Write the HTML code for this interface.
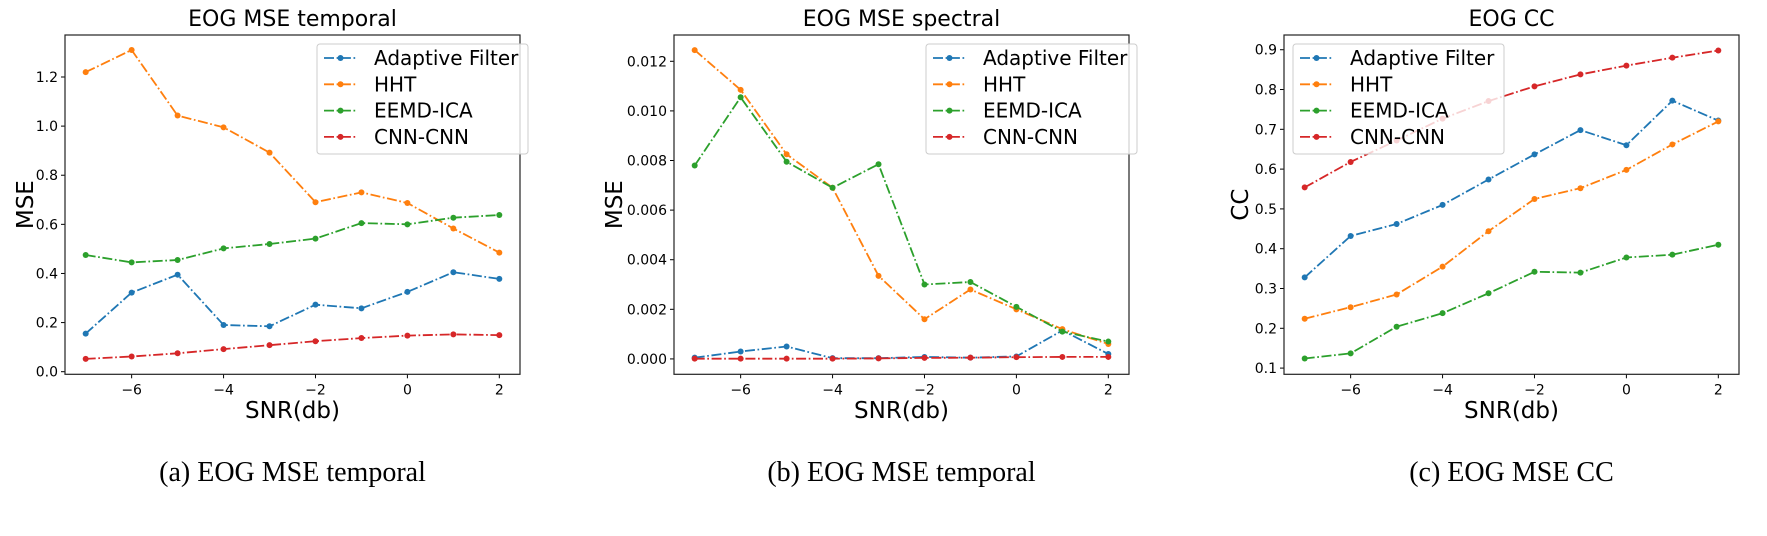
<!DOCTYPE html>
<html><head><meta charset="utf-8"><style>
html,body{margin:0;padding:0;background:#fff;}
svg{display:block;font-family:"DejaVu Sans","Liberation Sans",sans-serif;}
</style></head><body>
<svg id="fig" width="1767" height="536" viewBox="0 0 1767 536" xmlns="http://www.w3.org/2000/svg"></svg>
<script>
const snr = [-7,-6,-5,-4,-3,-2,-1,0,1,2];
const seriesNames = ["Adaptive Filter","HHT","EEMD-ICA","CNN-CNN"];
const colors = ["#1f77b4","#ff7f0e","#2ca02c","#d62728"];
// Chart 1: EOG MSE temporal
const t_af = [0.155,0.322,0.395,0.19,0.185,0.273,0.258,0.325,0.405,0.378];
const t_hht = [1.22,1.31,1.043,0.995,0.892,0.69,0.73,0.687,0.583,0.485];
const t_eemd = [0.475,0.445,0.455,0.502,0.52,0.542,0.605,0.6,0.627,0.638];
const t_cnn = [0.052,0.062,0.075,0.092,0.108,0.124,0.137,0.147,0.152,0.149];
const t_ticks = [0.0,0.2,0.4,0.6,0.8,1.0,1.2];
const t_tickLabels = ["0.0","0.2","0.4","0.6","0.8","1.0","1.2"];
// Chart 2: EOG MSE spectral
const s_af = [0.00005,0.0003,0.0005,0.00003,0.00003,0.00008,0.00005,0.0001,0.00115,0.0002];
const s_hht = [0.01245,0.01085,0.00825,0.0069,0.00335,0.0016,0.0028,0.002,0.0012,0.0006];
const s_eemd = [0.0078,0.01055,0.00795,0.0069,0.00785,0.003,0.0031,0.0021,0.0011,0.0007];
const s_cnn = [0.00001,0.00001,0.00001,0.00001,0.00002,0.00004,0.00005,0.00007,0.00008,0.00008];
const s_ticks = [0,0.002,0.004,0.006,0.008,0.010,0.012];
const s_tickLabels = ["0.000","0.002","0.004","0.006","0.008","0.010","0.012"];
// Chart 3: EOG CC
const c_af = [0.328,0.432,0.462,0.51,0.574,0.637,0.698,0.66,0.772,0.722];
const c_hht = [0.224,0.253,0.285,0.355,0.444,0.525,0.552,0.598,0.662,0.72];
const c_eemd = [0.124,0.137,0.204,0.238,0.288,0.342,0.34,0.378,0.385,0.41];
const c_cnn = [0.554,0.618,0.672,0.727,0.771,0.808,0.838,0.86,0.88,0.898];
const c_ticks = [0.1,0.2,0.3,0.4,0.5,0.6,0.7,0.8,0.9];
const c_tickLabels = ["0.1","0.2","0.3","0.4","0.5","0.6","0.7","0.8","0.9"];
const xTicks = [-6,-4,-2,0,2];
const xTickLabels = ["\u22126","\u22124","\u22122","0","2"];

const NS = "http://www.w3.org/2000/svg";
const fig = document.getElementById("fig");
function mk(tag, attrs, parent){const e=document.createElementNS(NS,tag);for(const k in attrs)e.setAttribute(k,attrs[k]);(parent||fig).appendChild(e);return e;}
function txt(s, attrs, parent){const e=mk("text",attrs,parent);e.textContent=s;return e;}

const charts = [
 {left:65,title:"EOG MSE temporal",ylab:"MSE",ylabOff:32,ymin:-0.0106,ymax:1.371,data:[t_af,t_hht,t_eemd,t_cnn],ticks:t_ticks,labels:t_tickLabels,caption:"(a) EOG MSE temporal",legX:317,name:"temporal"},
 {left:674,title:"EOG MSE spectral",ylab:"MSE",ylabOff:52,ymin:-0.00062,ymax:0.01306,data:[s_af,s_hht,s_eemd,s_cnn],ticks:s_ticks,labels:s_tickLabels,caption:"(b) EOG MSE temporal",legX:926,name:"spectral"},
 {left:1284,title:"EOG CC",ylab:"CC",ylabOff:36,ymin:0.0844,ymax:0.937,data:[c_af,c_hht,c_eemd,c_cnn],ticks:c_ticks,labels:c_tickLabels,caption:"(c) EOG MSE CC",legX:1293,name:"cc"}
];
const W=455, TOP=35, BOT=374.3, XMIN=-7.45, XMAX=2.45;
const LEGW=211;

charts.forEach(ch=>{
  const g = mk("g",{});
  
  
  const L=ch.left, R=L+W;
  const xs = v => L + (v-XMIN)/(XMAX-XMIN)*W;
  const ys = v => BOT - (v-ch.ymin)/(ch.ymax-ch.ymin)*(BOT-TOP);
  const t = txt(ch.title,{x:(L+R)/2,y:26,"text-anchor":"middle","font-size":22,fill:"#000"},g);
  
  
  ch.ticks.forEach((v,i)=>{
    const y=ys(v);
    mk("line",{x1:L-4,x2:L,y1:y,y2:y,stroke:"#000","stroke-width":1},g);
    const tl = txt(ch.labels[i],{x:L-7,y:y+5,"text-anchor":"end","font-size":14,fill:"#000"},g);
    
    
  });
  xTicks.forEach((v,i)=>{
    const x=xs(v);
    mk("line",{x1:x,x2:x,y1:BOT,y2:BOT+4,stroke:"#000","stroke-width":1},g);
    const tl = txt(xTickLabels[i],{x:x,y:BOT+20,"text-anchor":"middle","font-size":14,fill:"#000"},g);
    
    
  });
  const xl = txt("SNR(db)",{x:(L+R)/2,y:418,"text-anchor":"middle","font-size":23,fill:"#000"},g);
  
  
  const yx = L-ch.ylabOff, yy=(TOP+BOT)/2;
  const yl = txt(ch.ylab,{x:yx,y:yy,"text-anchor":"middle","font-size":23,fill:"#000",transform:`rotate(-90 ${yx} ${yy})`},g);
  
  
  ch.data.forEach((arr,si)=>{
    const pts = arr.map((v,i)=>xs(snr[i]).toFixed(1)+","+ys(v).toFixed(1)).join(" ");
    const pl = mk("polyline",{points:pts,fill:"none",stroke:colors[si],"stroke-width":1.8,"stroke-dasharray":"10 2.6 1.7 2.6"},g);
    
    
    arr.forEach((v,i)=>{
      const c = mk("circle",{cx:xs(snr[i]),cy:ys(v),r:3,fill:colors[si]},g);
      
      
    });
  });
  const fr = mk("rect",{x:L,y:TOP,width:W,height:BOT-TOP,fill:"none",stroke:"#222","stroke-width":1.2},g);
  
  
  const lg = mk("g",{},g);
  
  
  mk("rect",{x:ch.legX,y:44,width:LEGW,height:110,rx:3,fill:"#fff","fill-opacity":0.8,stroke:"#ccc","stroke-width":1},lg);
  seriesNames.forEach((n,si)=>{
    const y=58+si*26.3;
    const e = mk("g",{},lg);
    
    
    mk("line",{x1:ch.legX+7,x2:ch.legX+40,y1:y,y2:y,stroke:colors[si],"stroke-width":1.8,"stroke-dasharray":"10 2.6 1.7 2.6"},e);
    mk("circle",{cx:ch.legX+23.5,cy:y,r:3,fill:colors[si]},e);
    txt(n,{x:ch.legX+57,y:y+7,"font-size":20,fill:"#000"},e);
  });
  const cap = txt(ch.caption,{x:(L+R)/2,y:481,"text-anchor":"middle","font-size":28,fill:"#000","font-family":"Liberation Serif, serif"},g);
  
  
});
</script>
</body></html>
